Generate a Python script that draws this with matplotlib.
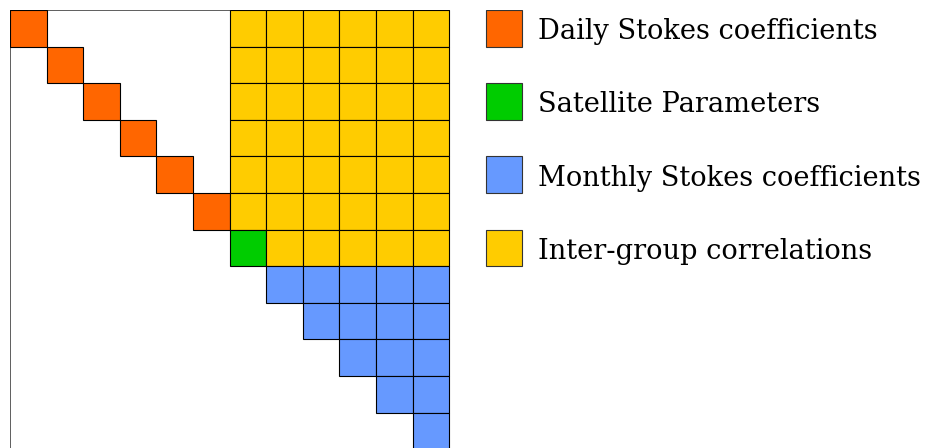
import matplotlib
matplotlib.use("Agg")
import matplotlib.pyplot as plt
from matplotlib.patches import Rectangle

# Block structure of the covariance matrix (row by row)
# D = daily Stokes, S = satellite parameters, M = monthly Stokes, C = inter-group correlations, . = empty
matrix_rows = [
    "D.....CCCCCC",
    ".D....CCCCCC",
    "..D...CCCCCC",
    "...D..CCCCCC",
    "....D.CCCCCC",
    ".....DCCCCCC",
    "......SCCCCC",
    ".......MMMMM",
    "........MMMM",
    ".........MMM",
    "..........MM",
    "...........M",
]
group_codes = ["D", "S", "M", "C"]
group_labels = ["Daily Stokes coefficients", "Satellite Parameters",
                "Monthly Stokes coefficients", "Inter-group correlations"]
group_colors = ["#FF6600", "#00CC00", "#6699FF", "#FFCC00"]
color_of = dict(zip(group_codes, group_colors))

W, H = 931, 448
cell = 36.6
fig = plt.figure(figsize=(W / 100, H / 100), dpi=100)
left_px, top_px = 10, 10
ax = fig.add_axes([left_px / W, 0, (W - left_px) / W, (H - top_px) / H])
ax.set_xlim(0, (W - left_px) / cell)
ax.set_ylim((H - top_px) / cell, 0)
ax.axis("off")

n = len(matrix_rows)
# outer frame
ax.add_patch(Rectangle((0, 0), n, n, fill=False, edgecolor="#333333", lw=1.1, zorder=1))

for r, row in enumerate(matrix_rows):
    for c, code in enumerate(row):
        if code in color_of:
            ax.add_patch(Rectangle((c, r), 1, 1, facecolor=color_of[code],
                                   edgecolor="black", lw=0.8, zorder=2))

# legend
for i, (lab, col) in enumerate(zip(group_labels, group_colors)):
    y = 2 * i
    ax.add_patch(Rectangle((13, y), 1, 1, facecolor=col, edgecolor="#333333", lw=0.8, zorder=2))
    ax.text(14.43, y + 0.80, lab, fontsize=19.6, family="DejaVu Serif",
            va="baseline", ha="left", color="black")

fig.savefig("out.png", dpi=100)
